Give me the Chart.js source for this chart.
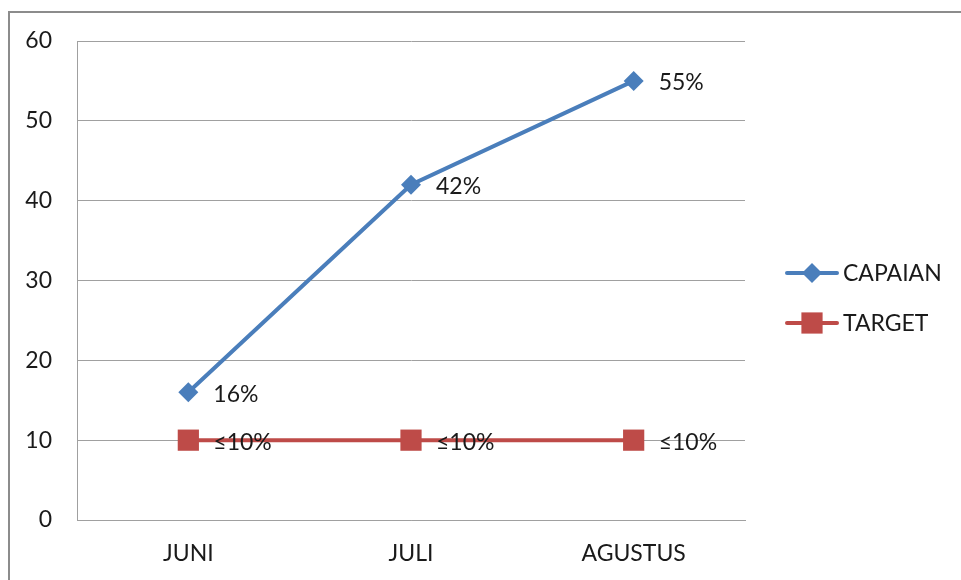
<!DOCTYPE html>
<html lang="en">
<head>
    <meta charset="UTF-8">
    <title>Capaian vs Target</title>
    <script src="https://cdn.jsdelivr.net/npm/chart.js@4.4.0/dist/chart.umd.min.js"></script>
    <style>
      html, body { margin: 0; padding: 0; background: #fff; }
      #wrap { width: 961px; height: 580px; }
    </style>
</head>
<body>
  <div id="wrap"><canvas id="chart"></canvas></div>
<script>
    const months = ['JUNI', 'JULI', 'AGUSTUS']
    const capaian = [16, 42, 55]
    const target = [10, 10, 10]
    const capaianLabels = ['16%', '42%', '55%']
    const targetLabels = ['≤10%', '≤10%', '≤10%']
    const yTicks = [0, 10, 20, 30, 40, 50, 60]

    const FONT = 'Lato, "Open Sans", sans-serif'
    const FSIZE = 23
    const BLUE = '#4a7ebb'
    const RED = '#be4b48'

    // outer frame of the chart object
    const framePlugin = {
      id: 'frame',
      beforeDraw(chart) {
        const c = chart.ctx
        c.save()
        c.strokeStyle = '#8c8c8c'
        c.lineWidth = 2
        c.beginPath()
        c.moveTo(9, 580)
        c.lineTo(9, 12)
        c.lineTo(961, 12)
        c.stroke()
        c.restore()
      }
    }

    // value labels to the right of each point
    const valueLabels = {
      id: 'valueLabels',
      afterDatasetsDraw(chart) {
        const c = chart.ctx
        c.save()
        c.font = FSIZE + 'px ' + FONT
        c.fillStyle = '#1a1a1a'
        c.textBaseline = 'middle'
        c.textAlign = 'left'
        chart.data.datasets.forEach((ds, i) => {
          const meta = chart.getDatasetMeta(i)
          meta.data.forEach((pt, j) => {
            c.fillText(ds.valueLabels[j], pt.x + 25, pt.y + 2)
          })
        })
        c.restore()
      }
    }

    // legend: line with marker, then text
    const sideLegend = {
      id: 'sideLegend',
      afterDraw(chart) {
        const c = chart.ctx
        c.save()
        c.font = FSIZE + 'px ' + FONT
        c.textBaseline = 'middle'
        chart.data.datasets.forEach((ds, i) => {
          const y = 273 + i * 50
          c.strokeStyle = ds.borderColor
          c.lineWidth = ds.borderWidth
          c.lineCap = 'round'
          c.beginPath()
          c.moveTo(787, y)
          c.lineTo(837, y)
          c.stroke()
          c.fillStyle = ds.backgroundColor
          Chart.helpers.drawPoint(c, {
            pointStyle: ds.pointStyle,
            radius: ds.pointRadius,
            borderWidth: 0
          }, 812, y)
          c.fillStyle = '#1a1a1a'
          c.fillText(ds.label, 843, y + 1)
        })
        c.restore()
      }
    }

    const ctx = document.getElementById('chart').getContext('2d')
    const myChart = new Chart(ctx, {
      type: 'line',
      data: {
        labels: months,
        datasets: [{
          label: 'CAPAIAN',
          data: capaian,
          valueLabels: capaianLabels,
          borderColor: BLUE,
          backgroundColor: BLUE,
          borderWidth: 4,
          pointStyle: 'rectRot',
          pointRadius: 10,
          pointBorderWidth: 0,
          fill: false,
          tension: 0
        }, {
          label: 'TARGET',
          data: target,
          valueLabels: targetLabels,
          borderColor: RED,
          backgroundColor: RED,
          borderWidth: 4,
          pointStyle: 'rect',
          pointRadius: 15,
          pointBorderWidth: 0,
          fill: false,
          tension: 0
        }]
      },
      options: {
        responsive: true,
        maintainAspectRatio: false,
        animation: false,
        layout: { padding: { top: 41, right: 216, left: 0, bottom: 0 } },
        plugins: {
          legend: { display: false },
          tooltip: { enabled: false }
        },
        scales: {
          x: {
            offset: true,
            grid: { display: false, drawTicks: false },
            border: { color: '#a0a0a0', width: 1 },
            ticks: { font: { family: FONT, size: FSIZE }, color: '#1a1a1a', padding: 20 },
            afterFit(s) { s.height = 60 }
          },
          y: {
            min: 0,
            max: 60,
            afterBuildTicks(s) { s.ticks = yTicks.map(v => ({ value: v })) },
            grid: { color: '#a0a0a0', lineWidth: 1, drawTicks: false },
            border: { color: '#a0a0a0', width: 1 },
            ticks: { font: { family: FONT, size: FSIZE }, color: '#1a1a1a', padding: 25 },
            afterFit(s) { s.width = 77 }
          }
        }
      },
      plugins: [framePlugin, valueLabels, sideLegend]
    })
</script>
</body>
</html>
